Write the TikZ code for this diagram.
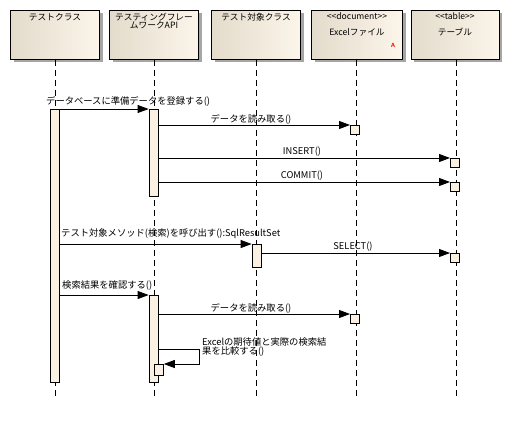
\documentclass[tikz,border=0pt]{standalone}
\usepackage{fontspec}
\setmainfont{Noto Sans CJK JP}
\usetikzlibrary{arrows.meta,shadows}
\definecolor{actfill}{HTML}{FBF1E3}
\definecolor{hdleft}{HTML}{E3DBCB}
\definecolor{hdright}{HTML}{FCF5EA}
\tikzset{
  hdrbox/.style={draw, line width=0.8pt, minimum width=89pt, minimum height=49pt, inner sep=0pt,
    left color=hdleft, right color=hdright,
    drop shadow={shadow xshift=3pt, shadow yshift=-3pt, fill=black!35, opacity=1}},
  hdrtext/.style={font=\fontsize{8.7}{10}\selectfont, align=center, inner sep=0pt, anchor=north},
  stereo/.style={font=\fontsize{8.6}{9}\selectfont, inner sep=0pt, anchor=north},
  life/.style={line width=0.8pt, dash pattern=on 6pt off 4pt},
  actbox/.style={draw, line width=0.8pt, fill=actfill, minimum width=9pt, inner sep=0pt},
  msg/.style={line width=0.8pt, -{Triangle[length=11pt,width=8pt]}},
  lbl/.style={font=\fontsize{9.3}{10.5}\selectfont, inner sep=0pt},
}
\begin{document}
\begin{tikzpicture}[x=1pt,y=-1pt]
\useasboundingbox[fill=white] (0,0) rectangle (510,421);

% header boxes
\node[hdrbox, anchor=north] (h1) at (55,10) {};
\node[hdrbox, anchor=north] (h2) at (154,10) {};
\node[hdrbox, anchor=north] (h3) at (256,10) {};
\node[hdrbox, anchor=north, minimum width=91pt] (h4) at (357,10) {};
\node[hdrbox, anchor=north, minimum width=88pt] (h5) at (455,10) {};

\node[hdrtext] (t1) at (55,13) {テストクラス};
\node[hdrtext] (t2) at (154,13) {テスティングフレー\\[-2pt]ムワークAPI};
\node[hdrtext] (t3) at (256,13) {テスト対象クラス};
\node[stereo] (s4) at (357,12) {{<}{<}document{>}{>}};
\node[hdrtext] (t4) at (357,28) {Excelファイル};
\node[stereo] (s5) at (455,12) {{<}{<}table{>}{>}};
\node[hdrtext] (t5) at (455,28) {テーブル};
\node[inner sep=0pt, text=red, font=\fontsize{6}{6}\sffamily\bfseries] (icon) at (393,45) {A};

% lifelines
\coordinate (e1) at (55,397);
\coordinate (e2) at (154,397);
\coordinate (e3) at (256,397);
\coordinate (e4) at (356,397);
\coordinate (e5) at (456,397);
\draw[life] (h1.south) -- (e1);
\draw[life] (h2.south) -- (e2);
\draw[life] (h3.south) -- (e3);
\draw[life] (h4.south -| e4) -- (e4);
\draw[life] (h5.south -| e5) -- (e5);

% activations
\node[actbox, minimum height=273pt, anchor=north] (a1) at (55,109) {};
\node[actbox, minimum height=87pt, anchor=north] (a2) at (153.5,109) {};
\node[actbox, minimum height=23pt, anchor=north] (a3) at (256.5,244) {};
\node[actbox, minimum height=87pt, anchor=north] (a4) at (153.5,295) {};
\node[actbox, minimum height=9pt, anchor=north west] (b1) at (350,125) {};
\node[actbox, minimum height=9pt, anchor=north west] (b2) at (450,158) {};
\node[actbox, minimum height=9pt, anchor=north west] (b3) at (450,182) {};
\node[actbox, minimum height=9pt, anchor=north west] (b4) at (450,253) {};
\node[actbox, minimum height=9pt, anchor=north west] (b5) at (350,314) {};
\node[actbox, minimum height=11pt, anchor=north west] (b6) at (154,364) {};

% messages
\draw[msg] (a1.north east) -- (a2.north west);
\node[lbl, anchor=west] (m1) at (46,101) {データベースに準備データを登録する()};

\draw[msg] (a2.east |- b1.north) -- (b1.north west);
\node[lbl] (m2) at (251,119) {データを読み取る()};

\draw[msg] (a2.east |- b2.north) -- (b2.north west);
\node[lbl] (m3) at (302,152) {INSERT()};

\draw[msg] (a2.east |- b3.north) -- (b3.north west);
\node[lbl] (m4) at (302,176) {COMMIT()};

\draw[msg] (a1.east |- a3.north) -- (a3.north west);
\node[lbl, anchor=west] (m5) at (61,234) {テスト対象メソッド(検索)を呼び出す():SqlResultSet};

\draw[msg] (a3.east |- b4.north) -- (b4.north west);
\node[lbl] (m6) at (353,247) {SELECT()};

\draw[msg] (a1.east |- a4.north) -- (a4.north west);
\node[lbl, anchor=west] (m7) at (62,285) {検索結果を確認する()};

\draw[msg] (a4.east |- b5.north) -- (b5.north west);
\node[lbl] (m8) at (251,308) {データを読み取る()};

\coordinate (sr) at (199,349);
\draw[msg] (a4.east |- sr) -- (sr) |- (b6.north east);
\node[lbl, anchor=north west, align=left] (m9) at (202,337) {Excelの期待値と実際の検索結\\[-1pt]果を比較する()};
\end{tikzpicture}
\end{document}
